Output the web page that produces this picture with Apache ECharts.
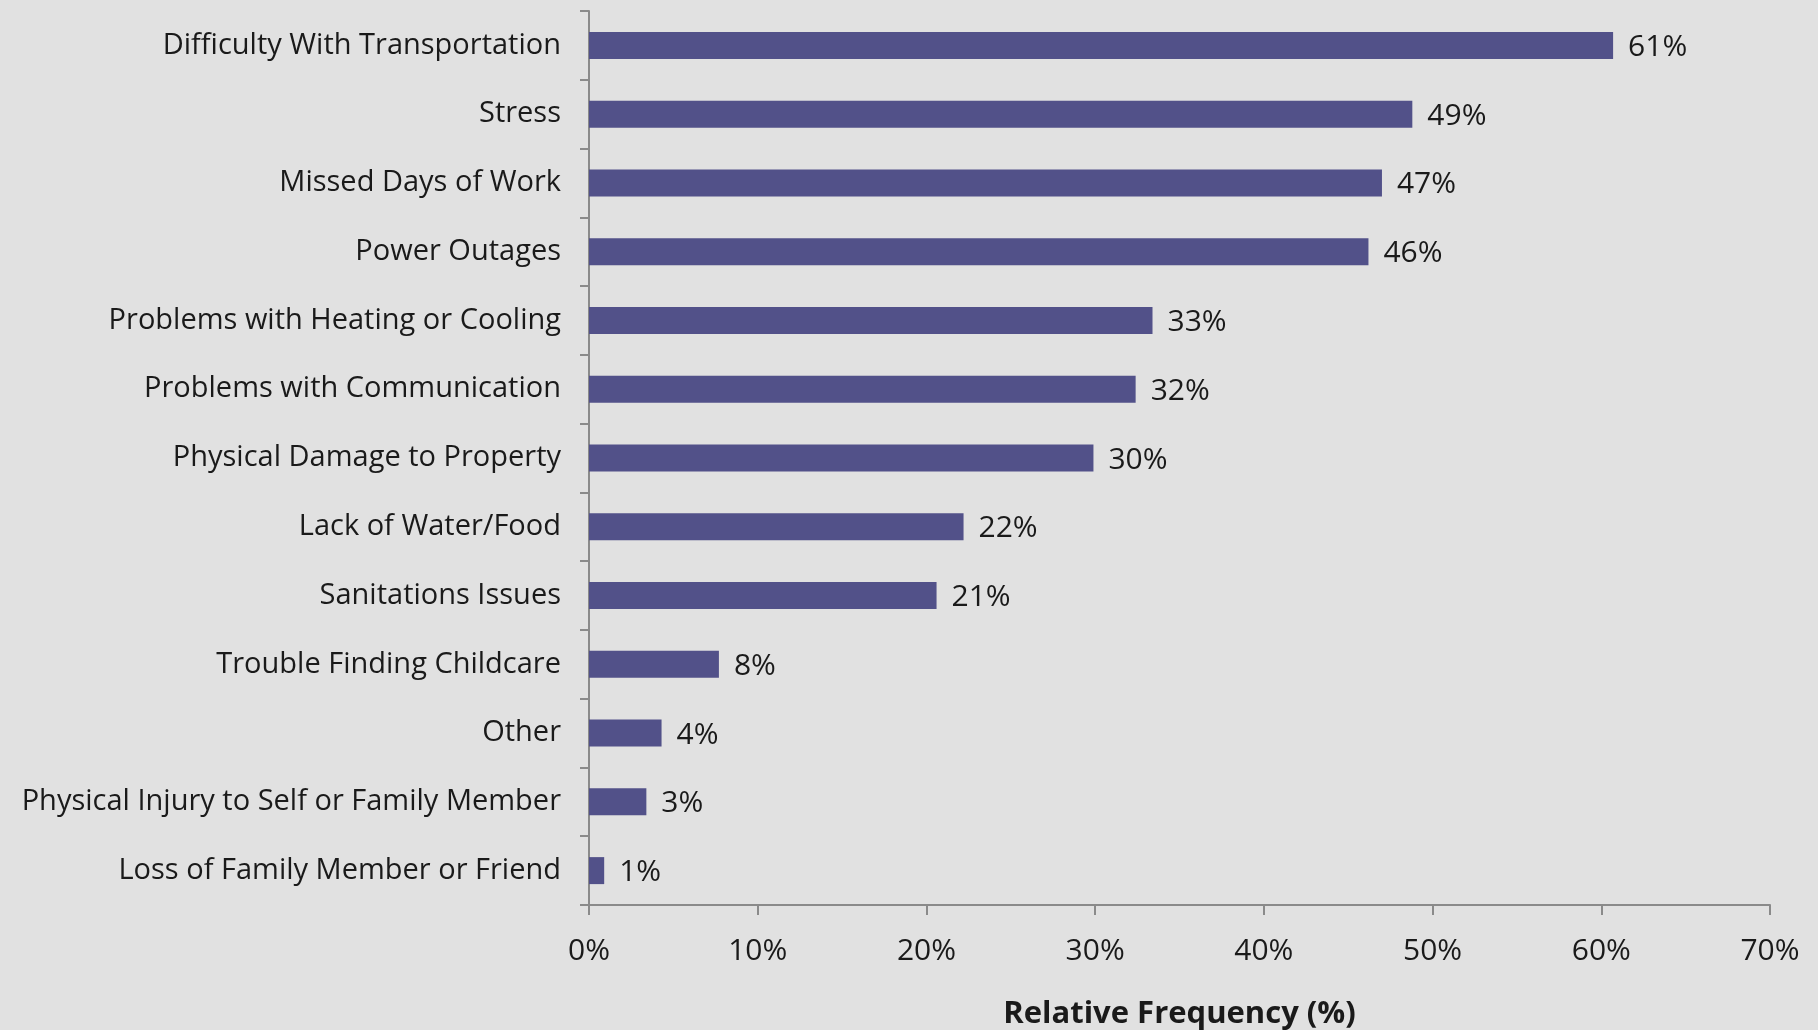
<!DOCTYPE html>
<html>
<head>
<meta charset="utf-8">
<script src="https://cdn.jsdelivr.net/npm/echarts@6/dist/echarts.min.js"></script>
<style>
  html, body { margin: 0; padding: 0; background: #e1e1e1; }
  #chart { width: 1818px; height: 1030px; }
</style>
</head>
<body>
<div id="chart"></div>
<script>
  const categories = [
    "Difficulty With Transportation",
    "Stress",
    "Missed Days of Work",
    "Power Outages",
    "Problems with Heating or Cooling",
    "Problems with Communication",
    "Physical Damage to Property",
    "Lack of Water/Food",
    "Sanitations Issues",
    "Trouble Finding Childcare",
    "Other",
    "Physical Injury to Self or Family Member",
    "Loss of Family Member or Friend"
  ];
  const frequency = [60.7, 48.8, 47.0, 46.2, 33.4, 32.4, 29.9, 22.2, 20.6, 7.7, 4.3, 3.4, 0.9];
  const xTicks = [0, 10, 20, 30, 40, 50, 60, 70];

  const font = "'Open Sans', 'DejaVu Sans', sans-serif";
  const axisGray = "#8a8a8a";
  const ink = "#1a1a1a";

  const myChart = echarts.init(document.getElementById("chart"));
  myChart.setOption({
    backgroundColor: "#e1e1e1",
    animation: false,
    grid: {
      left: 589,
      right: 48,
      top: 11,
      bottom: 125,
      outerBoundsMode: "none"
    },
    xAxis: {
      type: "value",
      min: xTicks[0],
      max: xTicks[xTicks.length - 1],
      interval: 10,
      name: "Relative Frequency (%)",
      nameLocation: "middle",
      nameGap: 94,
      nameTextStyle: { fontFamily: font, fontSize: 31, fontWeight: "bold", color: ink },
      axisLine: { show: true, lineStyle: { color: axisGray, width: 2 } },
      axisTick: { show: true, length: 10, lineStyle: { color: axisGray, width: 2 } },
      axisLabel: {
        margin: 31,
        fontFamily: font,
        fontSize: 30,
        color: ink,
        formatter: v => v + "%"
      },
      splitLine: { show: false }
    },
    yAxis: {
      type: "category",
      data: categories,
      inverse: true,
      axisLine: { show: true, lineStyle: { color: axisGray, width: 2 } },
      axisTick: { show: true, length: 9, interval: 0, lineStyle: { color: axisGray, width: 2 } },
      axisLabel: {
        margin: 28,
        padding: [4, 0, 0, 0],
        fontFamily: font,
        fontSize: 29,
        color: ink
      }
    },
    series: [
      {
        type: "bar",
        data: frequency,
        barWidth: 27,
        itemStyle: { color: "#525189" },
        label: {
          show: true,
          position: "right",
          distance: 15,
          offset: [0, 2],
          fontFamily: font,
          fontSize: 30,
          color: ink,
          formatter: p => Math.round(p.value) + "%"
        }
      }
    ]
  });
</script>
</body>
</html>
